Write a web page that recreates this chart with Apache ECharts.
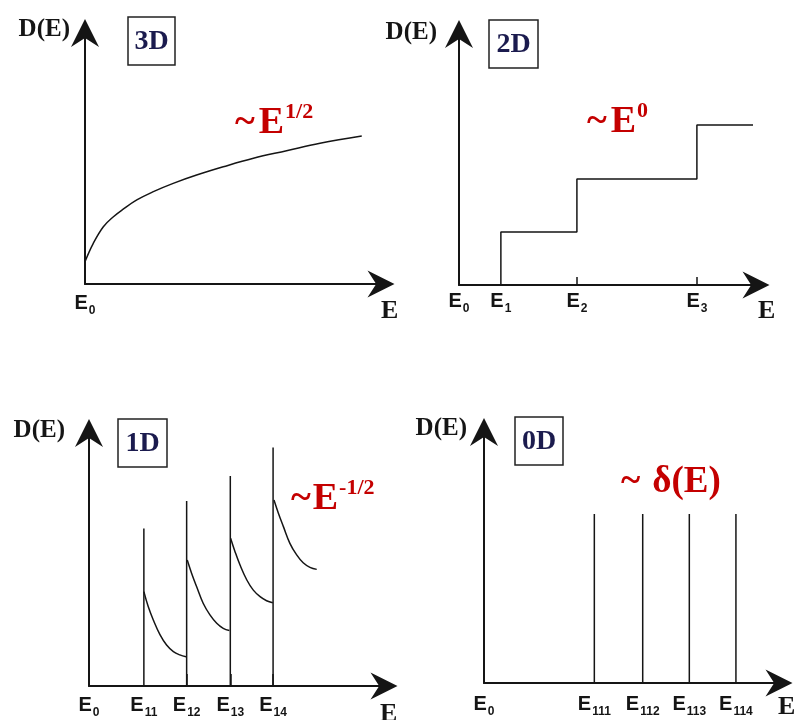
<!DOCTYPE html>
<html>
<head>
<meta charset="utf-8">
<script src="https://cdn.jsdelivr.net/npm/echarts@6/dist/echarts.min.js"></script>
<style>
html, body { margin: 0; padding: 0; background: #fff; }
#chart { width: 796px; height: 720px; }
</style>
</head>
<body>
<div id="chart"></div>
<script>
// Density of states D(E) for 3D, 2D, 1D and 0D systems (arbitrary units, 0–10 on each axis)

// 3D: square-root rise
const bulkE = [0, 0.28, 0.62, 0.96, 1.29, 1.75, 2.31, 2.98, 3.77, 4.67, 5.69, 6.81, 7.94, 9.35];
const bulkD = [0.89, 1.62, 2.28, 2.68, 2.98, 3.35, 3.68, 4.01, 4.34, 4.67, 5.01, 5.31, 5.61, 5.90];

// 2D: staircase, one step per subband edge
const wellEdges = [1.41, 3.97, 8.01];
const wellLevels = [2.11, 4.22, 6.37];
const wellEnd = 9.9;

// 1D: spikes at the subband edges followed by E^-1/2 tails
const wireEdges = [1.86, 3.31, 4.79, 6.24];
const wireSpikeTops = [6.23, 7.31, 8.30, 9.43];
const wireTailE = [
  [1.86, 2.01, 2.18, 2.41, 2.63, 2.86, 3.08, 3.29],
  [3.33, 3.48, 3.65, 3.87, 4.10, 4.33, 4.55, 4.76],
  [4.80, 4.95, 5.12, 5.35, 5.57, 5.80, 6.02, 6.23],
  [6.27, 6.42, 6.59, 6.81, 7.04, 7.26, 7.49, 7.72]
];
const wireTailD = [
  [3.73, 3.13, 2.61, 2.02, 1.62, 1.36, 1.23, 1.16],
  [4.98, 4.45, 3.92, 3.27, 2.81, 2.48, 2.28, 2.19],
  [5.84, 5.31, 4.78, 4.19, 3.79, 3.53, 3.37, 3.29],
  [7.35, 6.83, 6.30, 5.64, 5.18, 4.87, 4.69, 4.61]
];

// 0D: discrete levels (delta functions)
const dotLevels = [3.74, 5.38, 6.96, 8.54];
const dotHeight = 6.73;

// Tick label subscripts on each energy axis
const bulkTickSubs = ['0'];
const wellTickSubs = ['0', '1', '2', '3'];
const wireTickSubs = ['0', '11', '12', '13', '14'];
const dotTickSubs = ['0', '111', '112', '113', '114'];

const panelTitles = ['3D', '2D', '1D', '0D'];

const INK = '#151515';
const RED = '#c40000';
const NAVY = '#1b1b4e';
const SERIF = '"Liberation Serif", "Times New Roman", serif';
const NARROW = '"Liberation Sans Narrow", "Liberation Sans", Arial, sans-serif';
const ARROW = 'path://M14,0 L28,28 L14,19 L0,28 Z';

const grids = [
  { left: 85, top: 33, width: 296, height: 251 },
  { left: 459, top: 34, width: 297, height: 251 },
  { left: 89, top: 433, width: 295, height: 253 },
  { left: 484, top: 432, width: 295, height: 251 }
].map(function (g) { return Object.assign({ outerBoundsMode: 'none', containLabel: false }, g); });

function energyAxis(gridIndex, values, subs, tickValues, tickLen, labelMargin, nameGap, namePadTop) {
  return {
    type: 'value', gridIndex: gridIndex, min: 0, max: 10,
    name: 'E', nameLocation: 'end', nameGap: nameGap,
    nameTextStyle: {
      fontFamily: SERIF, fontWeight: 'bold', fontSize: 26, color: INK,
      align: 'left', verticalAlign: 'top', padding: [namePadTop, 0, 0, 0]
    },
    axisLine: {
      show: true, symbol: ['none', ARROW], symbolSize: [27, 28],
      lineStyle: { color: INK, width: 2 }
    },
    axisTick: tickValues.length ? {
      show: true, customValues: tickValues, inside: true, length: tickLen,
      lineStyle: { color: INK, width: 1.5 }
    } : { show: false },
    splitLine: { show: false },
    axisLabel: {
      customValues: values,
      margin: labelMargin,
      formatter: function (v) {
        let best = 0;
        values.forEach(function (x, i) { if (Math.abs(x - v) < Math.abs(values[best] - v)) best = i; });
        return '{e|E}{s|' + subs[best] + '}';
      },
      rich: {
        e: { fontFamily: NARROW, fontWeight: 'bold', fontSize: 20, color: INK, verticalAlign: 'top', lineHeight: 20 },
        s: { fontFamily: NARROW, fontWeight: 'bold', fontSize: 12, color: INK, verticalAlign: 'top', lineHeight: 12, padding: [12, 0, 0, 1] }
      }
    }
  };
}

function dosAxis(gridIndex, nameGap, padRight) {
  return {
    type: 'value', gridIndex: gridIndex, min: 0, max: 10,
    name: 'D(E)', nameLocation: 'end', nameGap: nameGap,
    nameTextStyle: {
      fontFamily: SERIF, fontWeight: 'bold', fontSize: 25, color: INK,
      align: 'right', verticalAlign: 'middle', padding: [0, padRight, 0, 0]
    },
    axisLine: {
      show: true, onZero: false, symbol: ['none', ARROW], symbolSize: [28, 28],
      lineStyle: { color: INK, width: 2 }
    },
    axisTick: { show: false },
    axisLabel: { show: false },
    splitLine: { show: false }
  };
}

function zip(xs, ys) { return xs.map(function (x, i) { return [x, ys[i]]; }); }

function lineSeries(gridIndex, data, extra) {
  return Object.assign({
    type: 'line', xAxisIndex: gridIndex, yAxisIndex: gridIndex,
    data: data, symbol: 'none', silent: true, clip: false,
    lineStyle: { color: INK, width: 1.5 }
  }, extra || {});
}

const series = [];
// 3D
series.push(lineSeries(0, zip(bulkE, bulkD), { smooth: 0.4 }));
// 2D staircase: D jumps to each level at its edge
series.push(lineSeries(1,
  [[wellEdges[0], 0]].concat(zip(wellEdges, wellLevels), [[wellEnd, wellLevels[wellLevels.length - 1]]]),
  { step: 'end' }));
// 1D spikes and tails
wireEdges.forEach(function (e, i) {
  series.push(lineSeries(2, [[e, 0], [e, wireSpikeTops[i]]]));
  series.push(lineSeries(2, zip(wireTailE[i], wireTailD[i]), { smooth: 0.4 }));
});
// 0D delta peaks
dotLevels.forEach(function (e) {
  series.push(lineSeries(3, [[e, 0], [e, dotHeight]]));
});

function titleBox(x, y, w, h, label) {
  return [
    { type: 'rect', shape: { x: x, y: y, width: w, height: h },
      style: { fill: '#fff', stroke: '#222', lineWidth: 1.5 }, z: 10 },
    { type: 'text', x: x + w / 2, y: y + h / 2 + 1, z: 11,
      style: { text: label, font: 'bold 28px ' + SERIF, fill: NAVY,
               align: 'center', verticalAlign: 'middle', textAlign: 'center', textVerticalAlign: 'middle' } }
  ];
}

function formula(x, y, text, bigSize, supSize, gap) {
  return { type: 'text', x: x, y: y, z: 11,
    style: {
      text: text, align: 'left', verticalAlign: 'middle', textAlign: 'left', textVerticalAlign: 'middle',
      rich: {
        t: { fontFamily: SERIF, fontWeight: 'bold', fontSize: bigSize, fill: RED, color: RED, padding: [0, gap, 0, 0], lineHeight: 44, verticalAlign: 'middle' },
        e: { fontFamily: SERIF, fontWeight: 'bold', fontSize: bigSize, fill: RED, color: RED, lineHeight: 44, verticalAlign: 'middle' },
        s: { fontFamily: SERIF, fontWeight: 'bold', fontSize: supSize, fill: RED, color: RED, lineHeight: supSize, verticalAlign: 'top', padding: [0, 0, 0, 1] }
      }
    } };
}

const graphics = []
  .concat(titleBox(128, 17, 47, 48, panelTitles[0]))
  .concat(titleBox(489, 20, 49, 48, panelTitles[1]))
  .concat(titleBox(118, 419, 49, 48, panelTitles[2]))
  .concat(titleBox(515, 417, 48, 48, panelTitles[3]))
  .concat([
    formula(235, 123, '{t|~}{e|E}{s|1/2}', 38, 22, 4),
    formula(587, 122, '{t|~}{e|E}{s|0}', 38, 22, 4),
    formula(291, 499, '{t|~}{e|E}{s|-1/2}', 38, 22, 2),
    formula(621, 482, '{t|~}{e|δ(E)}', 37, 22, 12)
  ]);

const chart = echarts.init(document.getElementById('chart'), null, { renderer: 'canvas' });
chart.setOption({
  animation: false,
  backgroundColor: '#fff',
  grid: grids,
  xAxis: [
    energyAxis(0, [0], bulkTickSubs, [], 0, 9, 0, 14),
    energyAxis(1, [0].concat(wellEdges), wellTickSubs, wellEdges.slice(1), 8, 6, 2, 13),
    energyAxis(2, [0].concat(wireEdges), wireTickSubs, wireEdges.slice(1), 12, 9, -4, 15),
    energyAxis(3, [0].concat(dotLevels), dotTickSubs, [], 0, 11, -1, 11)
  ],
  yAxis: [
    dosAxis(0, 3, 15),
    dosAxis(1, 1, 22),
    dosAxis(2, 2, 24),
    dosAxis(3, 3, 17)
  ],
  series: series,
  graphic: graphics
});
</script>
</body>
</html>
